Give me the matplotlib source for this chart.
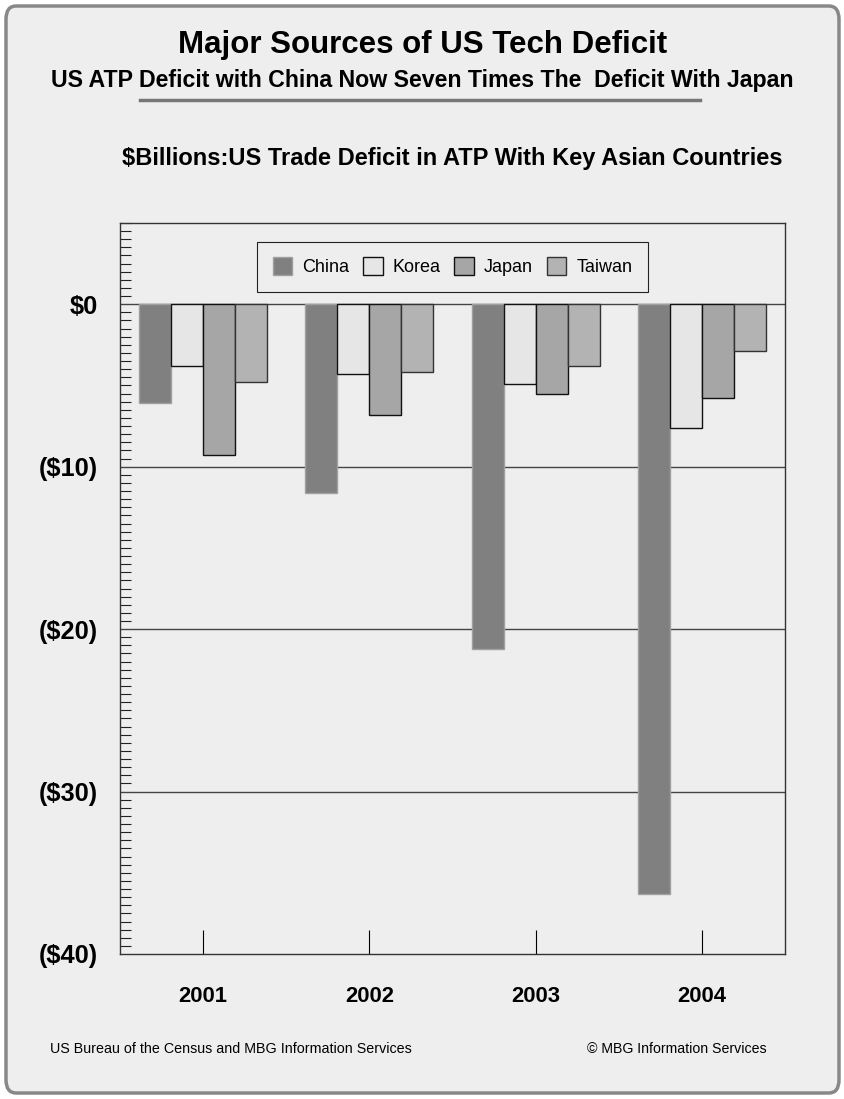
import matplotlib.pyplot as plt
import numpy as np
from matplotlib.patches import FancyBboxPatch
from matplotlib.lines import Line2D

plt.rcParams['font.family'] = ['Liberation Sans', 'DejaVu Sans']

# data ($ billions, deficits as negatives)
years = ['2001', '2002', '2003', '2004']
countries = ['China', 'Korea', 'Japan', 'Taiwan']
china = [-6.1, -11.6, -21.2, -36.3]
korea = [-3.8, -4.3, -4.9, -7.65]
japan = [-9.3, -6.85, -5.5, -5.75]
taiwan = [-4.8, -4.15, -3.8, -2.85]
ytick_vals = [0, -10, -20, -30, -40]
ytick_labels = ['$0', '($10)', '($20)', '($30)', '($40)']

series = [china, korea, japan, taiwan]
fills = ['#808080', '#e6e6e6', '#a6a6a6', '#b3b3b3']
edges = ['#a0a0a0', '#111111', '#111111', '#333333']
bg = '#eeeeee'

fig = plt.figure(figsize=(8.45, 10.99), dpi=100)
fig.patch.set_facecolor('white')

# rounded frame behind everything
frame = FancyBboxPatch((6 / 845, 6 / 1099), 833 / 845, 1087 / 1099,
                       boxstyle='round,pad=0,rounding_size=0.012',
                       transform=fig.transFigure, facecolor=bg,
                       edgecolor='#888888', linewidth=2.5, zorder=-5)
fig.patches.append(frame)

ax = fig.add_axes([120 / 845, 1 - 954 / 1099, 665 / 845, 731 / 1099])
ax.set_facecolor(bg)

x = np.arange(len(years))
w = 0.1925
for i, (vals, fc, ec) in enumerate(zip(series, fills, edges)):
    ax.bar(x + (i - 1.5) * w, vals, w, color=fc, edgecolor=ec,
           linewidth=1.0, label=countries[i], zorder=3)

ax.set_xlim(-0.5, 3.5)
ax.set_ylim(-40, 5)
for v in [0, -10, -20, -30]:
    ax.axhline(v, color='#444444', linewidth=1.0, zorder=1)

ax.set_yticks(ytick_vals)
ax.set_yticklabels(ytick_labels, fontsize=18.3, fontweight='bold')
ax.set_yticks(np.arange(-40, 5.01, 0.5), minor=True)
ax.tick_params(axis='y', which='both', direction='in', length=8,
               width=0.8, pad=15.8, colors='#222222', labelcolor='black')
ax.tick_params(axis='y', which='major', length=0)

ax.set_xticks(x)
ax.set_xticklabels(years, fontsize=15.8, fontweight='bold')
ax.tick_params(axis='x', direction='in', length=17, width=0.8, pad=23)

for s in ax.spines.values():
    s.set_color('#333333')
    s.set_linewidth(1.0)

leg = ax.legend(ncol=4, loc='upper center', bbox_to_anchor=(0.5, 0.974),
                borderaxespad=0, fontsize=13, frameon=True, fancybox=False,
                edgecolor='#222222', facecolor=bg, framealpha=1,
                handlelength=1.1, handleheight=1.1, handletextpad=0.55,
                columnspacing=0.75, borderpad=0.85)
leg.get_frame().set_linewidth(0.8)

fig.text(0.5, 1 - 45 / 1099, 'Major Sources of US Tech Deficit',
         ha='center', va='center', fontsize=22.5, fontweight='bold')
fig.text(0.5, 1 - 80 / 1099,
         'US ATP Deficit with China Now Seven Times The  Deficit With Japan',
         ha='center', va='center', fontsize=16.7, fontweight='bold')
fig.add_artist(Line2D([140 / 845, 700 / 845], [1 - 100 / 1099, 1 - 100 / 1099],
                      color='#777777', linewidth=2.5, transform=fig.transFigure))
fig.text(452 / 845, 1 - 158 / 1099,
         '$Billions:US Trade Deficit in ATP With Key Asian Countries',
         ha='center', va='center', fontsize=17, fontweight='bold')

fig.text(50 / 845, 1 - 1049 / 1099,
         'US Bureau of the Census and MBG Information Services',
         ha='left', va='center', fontsize=10.3)
fig.text(767 / 845, 1 - 1049 / 1099, '\u00a9 MBG Information Services',
         ha='right', va='center', fontsize=10.2)

fig.savefig('out.png', dpi=100, facecolor=fig.get_facecolor())
